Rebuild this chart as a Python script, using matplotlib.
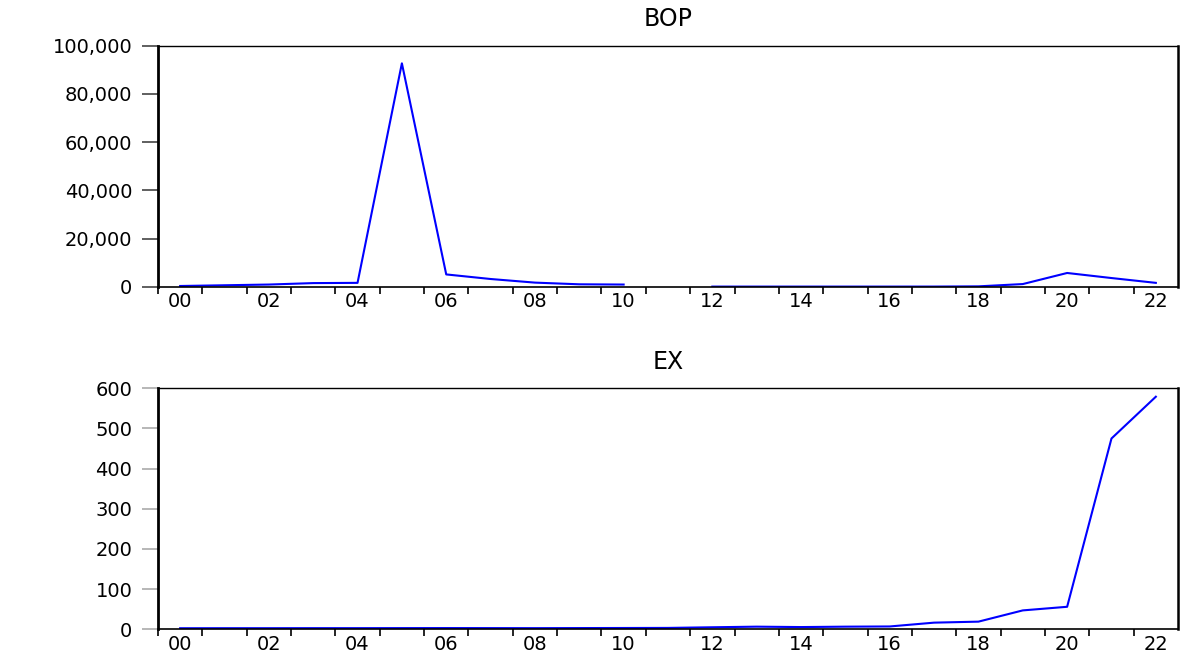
import numpy as np
import matplotlib
matplotlib.use("Agg")
import matplotlib.pyplot as plt
from matplotlib.ticker import FuncFormatter, FixedLocator

years = list(range(2000, 2023))
year_labels = [f"{y % 100:02d}" for y in years[::2]]

# BOP, 2011 missing
bop = [300, 600, 900, 1500, 1600, 92700, 5100, 3200, 1700, 1000, 900, np.nan,
       50, 50, 50, 50, 50, 60, 150, 1100, 5700, 3600, 1600]
bop_ticks = [0, 20000, 40000, 60000, 80000, 100000]

ex = [2.6, 2.7, 2.7, 2.8, 2.8, 2.9, 3.0, 2.9, 2.8, 3.0, 3.2, 3.4,
      5.0, 6.5, 5.5, 6.5, 7.0, 16.5, 19.0, 47.0, 56.0, 475.0, 579.0]
ex_ticks = [0, 100, 200, 300, 400, 500, 600]

plt.rcParams["font.family"] = ["DejaVu Sans"]


def style_panel(ax, title, yticks, ytick_color, fmt):
    ax.set_xlim(years[0] - 0.5, years[-1] + 0.5)
    ax.set_ylim(yticks[0], yticks[-1])
    ax.set_title(title, fontsize=17, pad=14)

    ax.xaxis.set_major_locator(FixedLocator(years[::2]))
    ax.set_xticklabels(year_labels)
    ax.xaxis.set_minor_locator(FixedLocator([y + 0.5 for y in years[:-1]] + [years[0] - 0.5]))
    ax.tick_params(axis="x", which="major", length=0, pad=4, labelsize=14)
    ax.tick_params(axis="x", which="minor", length=5, width=1.2, color="black",
                   direction="out")

    ax.set_yticks(yticks)
    ax.yaxis.set_major_formatter(FuncFormatter(fmt))
    ax.tick_params(axis="y", length=11.5, width=1.2, color=ytick_color, pad=7,
                   labelsize=14)

    ax.spines["left"].set_linewidth(2.0)
    ax.spines["right"].set_linewidth(1.8)
    ax.spines["top"].set_linewidth(1.0)
    ax.spines["bottom"].set_linewidth(1.2)
    for s in ax.spines.values():
        s.set_color("black")


fig = plt.figure(figsize=(11.85, 6.57), dpi=100)

ax1 = fig.add_axes([0.1333, 0.5636, 0.8608, 0.3668])
ax1.plot(years, bop, color="#0000FF", linewidth=1.5)
style_panel(ax1, "BOP", bop_ticks, "#444444", lambda v, p: f"{int(v):,}")

ax2 = fig.add_axes([0.1333, 0.0422, 0.8608, 0.3668])
ax2.plot(years, ex, color="#0000FF", linewidth=1.5)
style_panel(ax2, "EX", ex_ticks, "#aaaaaa", lambda v, p: f"{int(v)}")

fig.savefig("out.png", dpi=100)
